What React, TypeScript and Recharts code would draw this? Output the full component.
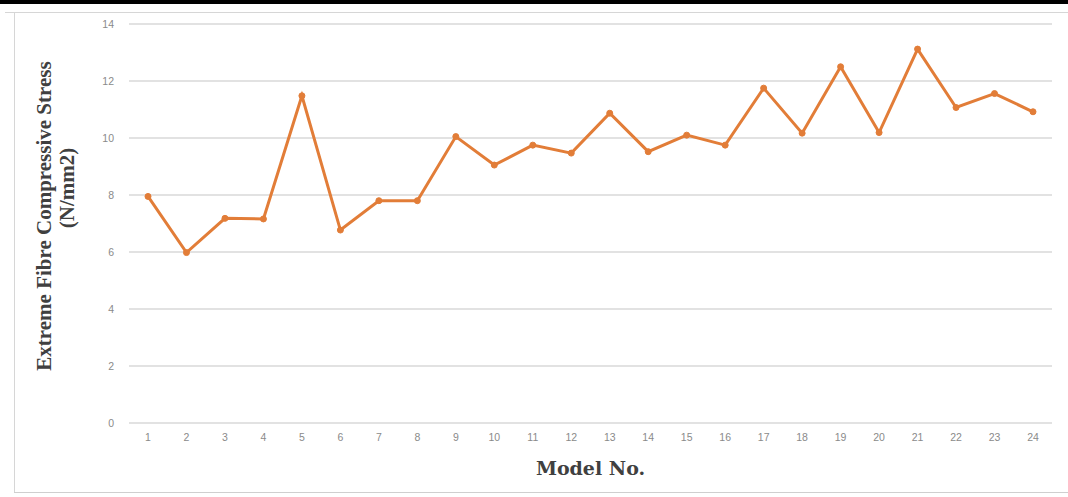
import { LineChart, Line, XAxis, YAxis, CartesianGrid, Label } from 'recharts';

const modelNos = ['1', '2', '3', '4', '5', '6', '7', '8', '9', '10', '11', '12', '13', '14', '15', '16', '17', '18', '19', '20', '21', '22', '23', '24'];
const stressValues = [7.95, 5.98, 7.18, 7.16, 11.48, 6.77, 7.8, 7.8, 10.05, 9.05, 9.75, 9.47, 10.87, 9.52, 10.1, 9.75, 11.75, 10.17, 12.5, 10.19, 13.12, 11.07, 11.56, 10.92];
const yTicks = [0, 2, 4, 6, 8, 10, 12, 14];

const data = modelNos.map((m, i) => ({ model: m, stress: stressValues[i] }));

const orange = '#E27D38';
const titleFont = "'Liberation Serif', 'Times New Roman', serif";

// rotated two line title, drawn in page coords
const renderYTitle = () => (
  <g transform="rotate(-90)">
    <text x={-216} y={51} textAnchor="middle" fontFamily={titleFont} fontWeight="bold" fontSize={21} fill="#404040">
      Extreme Fibre Compressive Stress
    </text>
    <text x={-188} y={74} textAnchor="middle" fontFamily={titleFont} fontWeight="bold" fontSize={21} fill="#404040">
      (N/mm2)
    </text>
  </g>
);

export default function App() {
  return (
    <div style={{ position: 'absolute', left: 0, top: 0, width: 1068, height: 497, background: '#fff', overflow: 'hidden' }}>
      {/* scan edges */}
      <div style={{ position: 'absolute', left: 0, top: 0, width: 1068, height: 4, background: '#000' }} />
      <div style={{ position: 'absolute', left: 5, top: 12, width: 1063, height: 1, background: '#d6d6d6' }} />
      <div style={{ position: 'absolute', left: 14, top: 12, width: 1, height: 480, background: '#d6d6d6' }} />
      <div style={{ position: 'absolute', left: 14, top: 492, width: 1054, height: 1, background: '#cfcfcf' }} />
      <div style={{ position: 'absolute', left: 0, top: 0 }}>
        <LineChart width={1068} height={497} data={data} margin={{ top: 24, right: 16, bottom: 0, left: 0 }}>
          <CartesianGrid vertical={false} stroke="#d9d9d9" strokeWidth={1.3} />
          <XAxis
            dataKey="model"
            height={74}
            axisLine={false}
            tickLine={false}
            tickSize={0}
            tickMargin={11}
            padding={{ left: 19, right: 19 }}
            interval={0}
            tick={{ fill: '#8a8a8a', fontSize: 10.5, fontFamily: "'Liberation Sans', Arial, sans-serif" }}
          >
            <Label value="Model No." position="insideBottom" offset={22} fill="#404040" fontSize={19} fontWeight="bold" fontFamily="'DejaVu Serif', serif" />
          </XAxis>
          <YAxis
            width={129}
            domain={[0, 14]}
            ticks={yTicks}
            axisLine={false}
            tickLine={false}
            tickSize={0}
            tickMargin={15}
            tick={{ fill: '#8a8a8a', fontSize: 10.5, fontFamily: "'Liberation Sans', Arial, sans-serif" }}
          >
            <Label content={renderYTitle} />
          </YAxis>
          <Line
            type="linear"
            dataKey="stress"
            stroke={orange}
            strokeWidth={3}
            dot={{ r: 3, fill: orange, stroke: orange, strokeWidth: 1 }}
            isAnimationActive={false}
          />
        </LineChart>
      </div>
    </div>
  );
}
